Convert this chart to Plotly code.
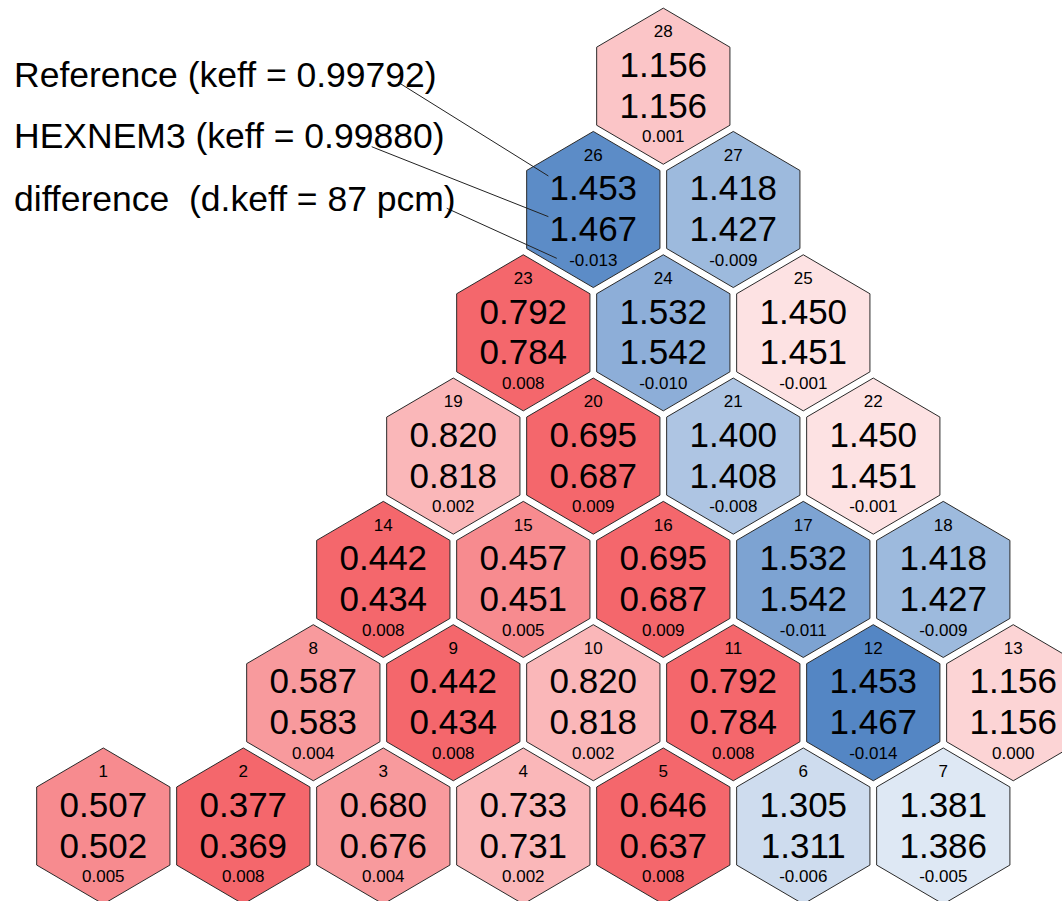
import numpy as np
import plotly.graph_objects as go

# Assembly numbering runs row by row from the bottom row of the 60-degree sector
hex_ids = list(range(1, 29))
row_sizes = [7, 6, 5, 4, 3, 2, 1]

reference = [0.507, 0.377, 0.680, 0.733, 0.646, 1.305, 1.381,
             0.587, 0.442, 0.820, 0.792, 1.453, 1.156,
             0.442, 0.457, 0.695, 1.532, 1.418,
             0.820, 0.695, 1.400, 1.450,
             0.792, 1.532, 1.450,
             1.453, 1.418,
             1.156]
hexnem3 = [0.502, 0.369, 0.676, 0.731, 0.637, 1.311, 1.386,
           0.583, 0.434, 0.818, 0.784, 1.467, 1.156,
           0.434, 0.451, 0.687, 1.542, 1.427,
           0.818, 0.687, 1.408, 1.451,
           0.784, 1.542, 1.451,
           1.467, 1.427,
           1.156]
difference = [0.005, 0.008, 0.004, 0.002, 0.008, -0.006, -0.005,
              0.004, 0.008, 0.002, 0.008, -0.014, 0.000,
              0.008, 0.005, 0.009, -0.011, -0.009,
              0.002, 0.009, -0.008, -0.001,
              0.008, -0.010, -0.001,
              -0.013, -0.009,
              0.001]

legend_lines = ["Reference (keff = 0.99792)",
                "HEXNEM3 (keff = 0.99880)",
                "difference  (d.keff = 87 pcm)"]

# ---- lattice centres (x in assembly pitches, y in rows) ----
cx, cy = [], []
for r, n in enumerate(row_sizes):
    x0 = 0.0 if r == 0 else 1.0 + 0.5 * r
    for i in range(n):
        cx.append(x0 + i)
        cy.append(float(r))
cx = np.array(cx)
cy = np.array(cy)

# ---- diverging colour map for the difference ----
RED = np.array([244, 103, 108])
BLUE = np.array([84, 134, 196])
WHITE = np.array([255, 255, 255])
c_mid, c_half = -0.003, 0.0105


def diff_color(d):
    t = np.clip((d - c_mid) / c_half, -1, 1)
    end = RED if t >= 0 else BLUE
    c = WHITE + abs(t) * (end - WHITE)
    return "rgb(%d,%d,%d)" % tuple(np.round(c).astype(int))


# ---- hexagon geometry (pointy top) ----
HW = 0.476   # half width in pitches
RY = 0.633   # circumradius in rows

shapes = []
for x, y, d in zip(cx, cy, difference):
    pts = [(x, y + RY), (x + HW, y + RY / 2), (x + HW, y - RY / 2),
           (x, y - RY), (x - HW, y - RY / 2), (x - HW, y + RY / 2)]
    path = "M " + " L ".join("%.4f,%.4f" % p for p in pts) + " Z"
    shapes.append(dict(type="path", path=path, xref="x", yref="y",
                       fillcolor=diff_color(d), layer="below",
                       line=dict(color="#2a2a2a", width=1)))

FONT = "Liberation Sans, Arial, sans-serif"
fig = go.Figure()


def text_trace(dy, labels, size):
    fig.add_trace(go.Scatter(x=cx, y=cy + dy, mode="text", text=labels,
                             textposition="middle center",
                             textfont=dict(family=FONT, size=size, color="black"),
                             hoverinfo="skip", showlegend=False))


text_trace(0.430, [str(i) for i in hex_ids], 17)
text_trace(0.146, ["%.3f" % v for v in reference], 35)
text_trace(-0.185, ["%.3f" % v for v in hexnem3], 35)
text_trace(-0.422, ["%.3f" % v for v in difference], 17)

# ---- key text with leader lines to assembly 26 ----
key_x = -0.652
key_y = [6.091, 5.596, 5.087]
annotations = []
for txt, y in zip(legend_lines, key_y):
    annotations.append(dict(x=key_x, y=y, xref="x", yref="y", text=txt,
                            showarrow=False, xanchor="left", yanchor="middle",
                            font=dict(family=FONT, size=35.5, color="black")))

k = hex_ids.index(26)
hx, hy = cx[k], cy[k]
starts = [(2.107, 6.031), (1.917, 5.509), (2.453, 5.010)]
ends = [(hx - 0.321, hy + 0.272), (hx - 0.321, hy - 0.058), (hx - 0.261, hy - 0.396)]
for (x0, y0), (x1, y1) in zip(starts, ends):
    shapes.append(dict(type="line", x0=x0, y0=y0, x1=x1, y1=y1,
                       xref="x", yref="y", layer="above",
                       line=dict(color="#222222", width=1)))

fig.update_layout(
    width=1062, height=901,
    margin=dict(l=0, r=0, t=0, b=0),
    paper_bgcolor="white", plot_bgcolor="white",
    shapes=shapes, annotations=annotations,
    xaxis=dict(range=[-0.738, 6.848], visible=False, fixedrange=True),
    yaxis=dict(range=[-0.608, 6.699], visible=False, fixedrange=True),
)

fig.write_html("out.html")
